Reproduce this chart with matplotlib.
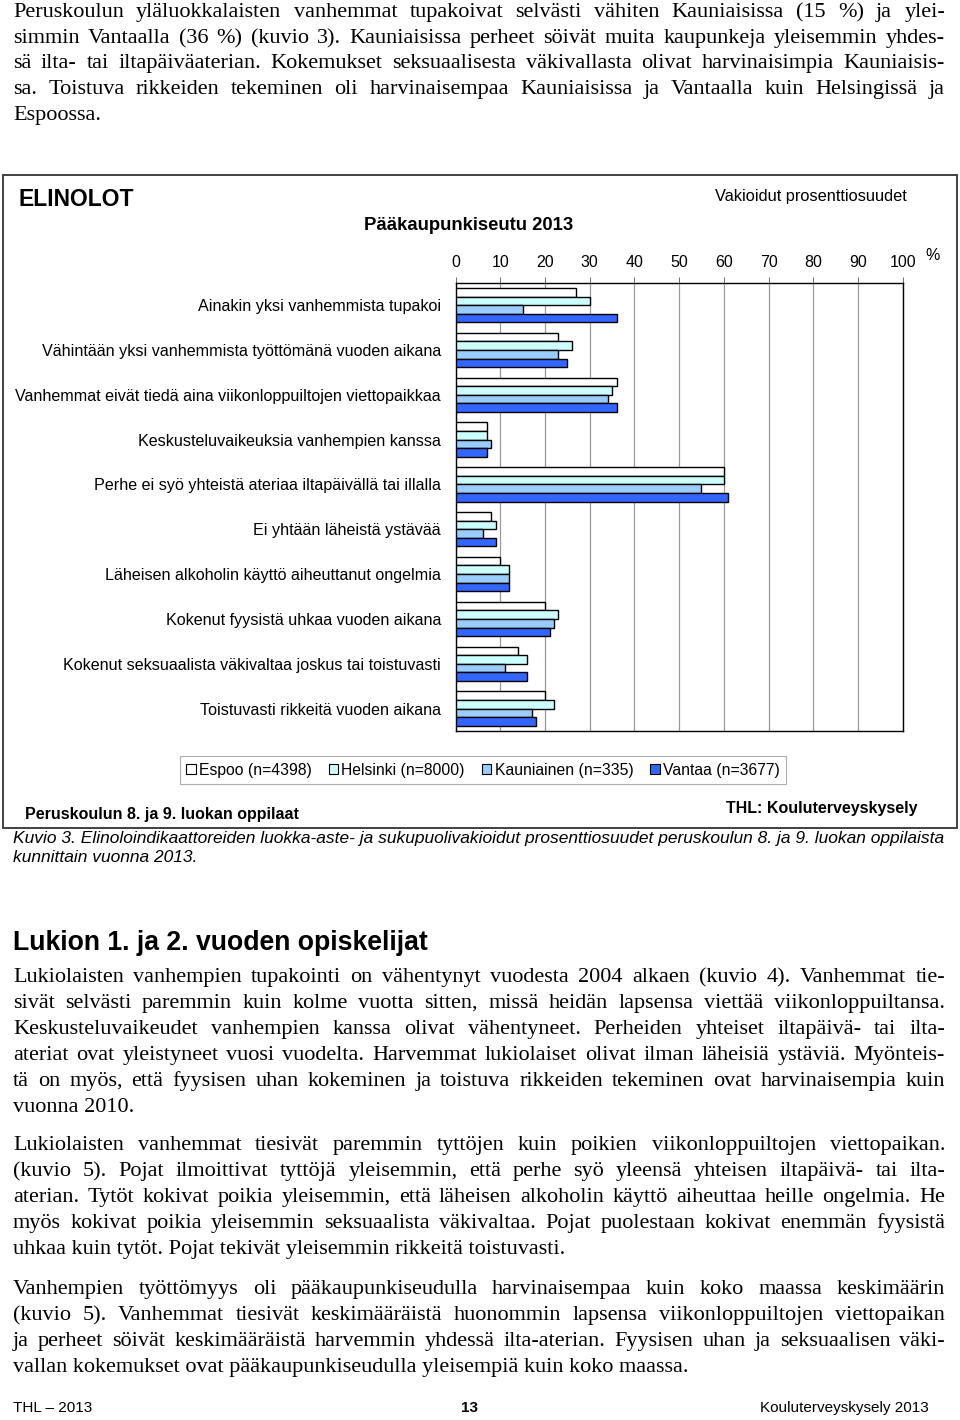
import numpy as np
import matplotlib
matplotlib.use("Agg")
import matplotlib.pyplot as plt
from matplotlib.patches import Rectangle, Patch
from matplotlib.font_manager import FontProperties
from matplotlib.backends.backend_agg import get_hinting_flag

W, H = 960, 1420

# kategoriat (ylhäältä alas)
categories = [
    "Ainakin yksi vanhemmista tupakoi",
    "Vähintään yksi vanhemmista työttömänä vuoden aikana",
    "Vanhemmat eivät tiedä aina viikonloppuiltojen viettopaikkaa",
    "Keskusteluvaikeuksia vanhempien kanssa",
    "Perhe ei syö yhteistä ateriaa iltapäivällä tai illalla",
    "Ei yhtään läheistä ystävää",
    "Läheisen alkoholin käyttö aiheuttanut ongelmia",
    "Kokenut fyysistä uhkaa vuoden aikana",
    "Kokenut seksuaalista väkivaltaa joskus tai toistuvasti",
    "Toistuvasti rikkeitä vuoden aikana",
]
espoo = [27, 23, 36, 7, 60, 8, 10, 20, 14, 20]
helsinki = [30, 26, 35, 7, 60, 9, 12, 23, 16, 22]
kauniainen = [15, 23, 34, 8, 55, 6, 12, 22, 11, 17]
vantaa = [36, 25, 36, 7, 61, 9, 12, 21, 16, 18]

series_names = ["Espoo (n=4398)", "Helsinki (n=8000)", "Kauniainen (n=335)", "Vantaa (n=3677)"]
colors = ["#ffffff", "#ccffff", "#99ccff", "#3366ff"]
ticks = [0, 10, 20, 30, 40, 50, 60, 70, 80, 90, 100]

para1 = [
    ("Peruskoulun yläluokkalaisten vanhemmat tupakoivat selvästi vähiten Kauniaisissa (15 %) ja ylei-", True),
    ("simmin Vantaalla (36 %) (kuvio 3). Kauniaisissa perheet söivät muita kaupunkeja yleisemmin yhdes-", True),
    ("sä ilta- tai iltapäiväaterian. Kokemukset seksuaalisesta väkivallasta olivat harvinaisimpia Kauniaisis-", True),
    ("sa. Toistuva rikkeiden tekeminen oli harvinaisempaa Kauniaisissa ja Vantaalla kuin Helsingissä ja", True),
    ("Espoossa.", False),
]
para2 = [
    ("Lukiolaisten vanhempien tupakointi on vähentynyt vuodesta 2004 alkaen (kuvio 4). Vanhemmat tie-", True),
    ("sivät selvästi paremmin kuin kolme vuotta sitten, missä heidän lapsensa viettää viikonloppuiltansa.", True),
    ("Keskusteluvaikeudet vanhempien kanssa olivat vähentyneet. Perheiden yhteiset iltapäivä- tai ilta-", True),
    ("ateriat ovat yleistyneet vuosi vuodelta. Harvemmat lukiolaiset olivat ilman läheisiä ystäviä. Myönteis-", True),
    ("tä on myös, että fyysisen uhan kokeminen ja toistuva rikkeiden tekeminen ovat harvinaisempia kuin", True),
    ("vuonna 2010.", False),
]
para3 = [
    ("Lukiolaisten vanhemmat tiesivät paremmin tyttöjen kuin poikien viikonloppuiltojen viettopaikan.", True),
    ("(kuvio 5). Pojat ilmoittivat tyttöjä yleisemmin, että perhe syö yleensä yhteisen iltapäivä- tai ilta-", True),
    ("aterian. Tytöt kokivat poikia yleisemmin, että läheisen alkoholin käyttö aiheuttaa heille ongelmia. He", True),
    ("myös kokivat poikia yleisemmin seksuaalista väkivaltaa. Pojat puolestaan kokivat enemmän fyysistä", True),
    ("uhkaa kuin tytöt. Pojat tekivät yleisemmin rikkeitä toistuvasti.", False),
]
para4 = [
    ("Vanhempien työttömyys oli pääkaupunkiseudulla harvinaisempaa kuin koko maassa keskimäärin", True),
    ("(kuvio 5). Vanhemmat tiesivät keskimääräistä huonommin lapsensa viikonloppuiltojen viettopaikan", True),
    ("ja perheet söivät keskimääräistä harvemmin yhdessä ilta-aterian. Fyysisen uhan ja seksuaalisen väki-", True),
    ("vallan kokemukset ovat pääkaupunkiseudulla yleisempiä kuin koko maassa.", False),
]

SERIF = "Liberation Serif"
SANS = "Liberation Sans"

fig = plt.figure(figsize=(W / 100, H / 100), dpi=100)
renderer = fig.canvas.get_renderer()


def fx(px):
    return px / W


def fy(py):
    return 1 - py / H


def word_baseline(word, size, row):
    # Agg pyöristää tekstikuvan paikan sanan alaosan mukaan -> korjataan,
    # jotta kaikkien sanojen perusviiva osuu samalle pikseliriville
    font = renderer._prepare_font(FontProperties(family=SERIF, size=size))
    font.set_text(word, 0.0, flags=get_hinting_flag())
    d = font.get_descent() / 64
    hh = font.get_width_height()[1] / 64
    a = hh - d
    return row - d - np.floor(a) + np.floor(hh)


def paragraph(lines, base0, step, x0=13, x1=945, size=16):
    # tasattu teksti: sanat sijoitetaan erikseen koko rivin levyiseksi
    for i, (line, justify) in enumerate(lines):
        row = round(base0 + i * step)
        words = line.split(" ") if justify else [line]
        objs = [fig.text(0, fy(word_baseline(w, size, row)), w, family=SERIF, fontsize=size,
                         va="baseline") for w in words]
        if not justify:
            objs[0].set_x(fx(x0))
            continue
        widths = [t.get_window_extent(renderer).width for t in objs]
        gap = (x1 - x0 - sum(widths)) / (len(words) - 1)
        x = x0
        for t, w in zip(objs, widths):
            t.set_x(fx(x))
            x += w + gap


paragraph(para1, 16.8, 25.8)

# kuvion kehys
fig.patches.append(Rectangle((fx(3), fy(828)), fx(954), 653 / H, transform=fig.transFigure,
                             fill=False, edgecolor="#404040", lw=1.4))

fig.text(fx(18), fy(199), "ELINOLOT", family=SANS, fontsize=16.5, weight="bold", va="center")
fig.text(fx(469), fy(226), "Pääkaupunkiseutu 2013", family=SANS, fontsize=13.3, weight="bold",
         va="center", ha="center")
fig.text(fx(907), fy(196), "Vakioidut prosenttiosuudet", family=SANS, fontsize=11.8,
         va="center", ha="right")
fig.text(fx(933), fy(255), "%", family=SANS, fontsize=11.5, va="center", ha="center")

ax = fig.add_axes([fx(455.7), fy(731), (902.6 - 455.7) / W, (731 - 282.7) / H])
y = np.arange(len(categories))
bh = 0.192
offsets = [-1.5 * bh, -0.5 * bh, 0.5 * bh, 1.5 * bh]
for vals, c, off, name in zip([espoo, helsinki, kauniainen, vantaa], colors, offsets, series_names):
    ax.barh(y + off, vals, height=bh, color=c, edgecolor="black", lw=1.0, label=name, zorder=3)

ax.set_xlim(0, 100)
ax.set_ylim(len(categories) - 0.5, -0.5)
ax.set_xticks(ticks)
ax.xaxis.tick_top()
ax.tick_params(axis="x", length=4, width=0.6, color="#555555", pad=5, labelsize=11.5)
for lab in ax.get_xticklabels():
    lab.set_family(SANS)
ax.set_yticks(y)
ax.set_yticklabels(categories, family=SANS, fontsize=11.6)
ax.tick_params(axis="y", length=0, pad=10.5)
ax.grid(axis="x", color="#999999", lw=0.9, zorder=0)
for s in ax.spines.values():
    s.set_color("black")
    s.set_linewidth(1.0)

handles = [Patch(facecolor=c, edgecolor="black", lw=0.8) for c in colors]
leg = fig.legend(handles, series_names, loc="center", bbox_to_anchor=(fx(483), fy(770)),
                 ncol=4, frameon=True, fancybox=False, edgecolor="#999999",
                 prop={"family": SANS, "size": 11.3}, handlelength=0.6, handleheight=0.6,
                 handletextpad=0.2, columnspacing=1.1, borderpad=0.4)
leg.get_frame().set_linewidth(0.8)

fig.text(fx(25), fy(814), "Peruskoulun 8. ja 9. luokan oppilaat", family=SANS, fontsize=11.5,
         weight="bold", va="center")
fig.text(fx(917), fy(808), "THL: Kouluterveyskysely", family=SANS, fontsize=11.5,
         weight="bold", va="center", ha="right")

fig.text(fx(13), fy(838), "Kuvio 3. Elinoloindikaattoreiden luokka-aste- ja sukupuolivakioidut "
         "prosenttiosuudet peruskoulun 8. ja 9. luokan oppilaista", family=SANS, fontsize=12.5,
         style="italic", va="center")
fig.text(fx(13), fy(857), "kunnittain vuonna 2013.", family=SANS, fontsize=12.5,
         style="italic", va="center")

fig.text(fx(13), fy(950), "Lukion 1. ja 2. vuoden opiskelijat", family=SANS, fontsize=19.2,
         weight="bold", va="baseline")

paragraph(para2, 981.5, 26)
paragraph(para3, 1150.5, 26)
paragraph(para4, 1293.5, 26)

fig.text(fx(13), fy(1408), "THL – 2013", family=SANS, fontsize=11, va="center")
fig.text(fx(470), fy(1408), "13", family=SANS, fontsize=11, weight="bold", va="center", ha="center")
fig.text(fx(929), fy(1408), "Kouluterveyskysely 2013", family=SANS, fontsize=11, va="center", ha="right")

fig.savefig("out.png", dpi=100)
